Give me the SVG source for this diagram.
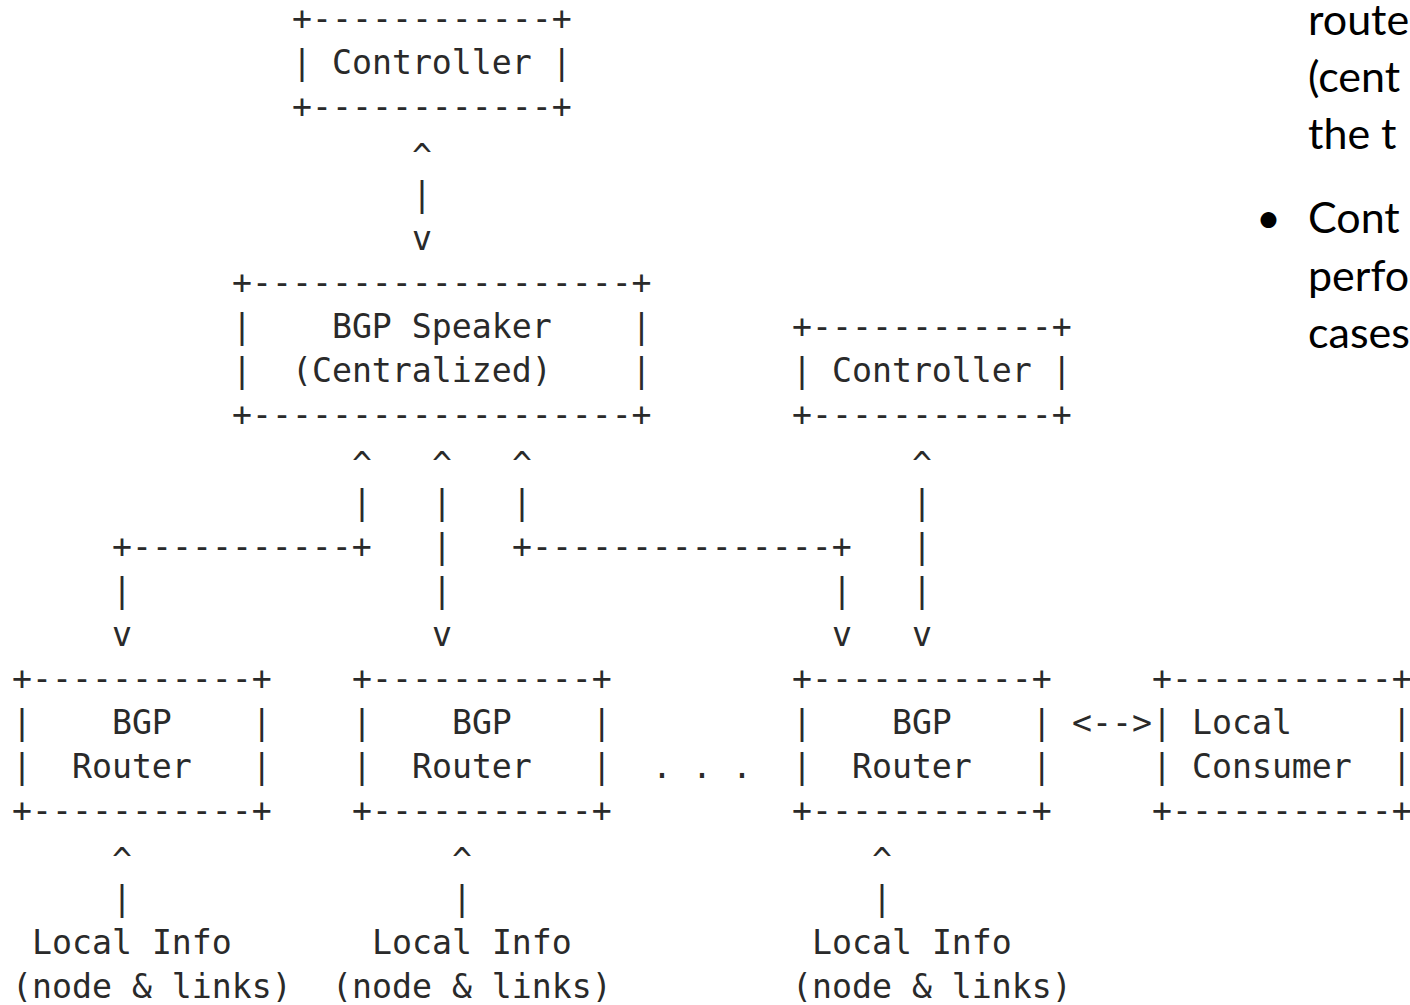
<svg xmlns="http://www.w3.org/2000/svg" width="1410" height="1005" viewBox="0 0 1410 1005" xml:space="preserve">
<style>
.a{font-family:"DejaVu Sans Mono","Liberation Mono",monospace;font-size:33.2px;fill:#2a2a2a;white-space:pre}
.s{font-family:Lato,"Open Sans","Liberation Sans",sans-serif;font-size:43px;fill:#000;white-space:pre}
</style>
<rect width="1410" height="1005" fill="#fff"/>
<g id="controller-top">
<text class="a" x="292" y="30">+------------+</text>
<text class="a" x="292" y="74">| Controller |</text>
<text class="a" x="292" y="118">+------------+</text>
</g>
<g id="bgp-speaker">
<text class="a" x="232" y="294">+-------------------+</text>
<text class="a" x="232" y="338">|    BGP Speaker    |</text>
<text class="a" x="232" y="382">|  (Centralized)    |</text>
<text class="a" x="232" y="426">+-------------------+</text>
</g>
<g id="controller-right">
<text class="a" x="792" y="338">+------------+</text>
<text class="a" x="792" y="382">| Controller |</text>
<text class="a" x="792" y="426">+------------+</text>
</g>
<g id="bgp-router-1">
<text class="a" x="12" y="690">+-----------+</text>
<text class="a" x="12" y="734">|    BGP    |</text>
<text class="a" x="12" y="778">|  Router   |</text>
<text class="a" x="12" y="822">+-----------+</text>
</g>
<g id="bgp-router-2">
<text class="a" x="352" y="690">+-----------+</text>
<text class="a" x="352" y="734">|    BGP    |</text>
<text class="a" x="352" y="778">|  Router   |</text>
<text class="a" x="352" y="822">+-----------+</text>
</g>
<g id="ellipsis">
<text class="a" x="652" y="778">. . .</text>
</g>
<g id="bgp-router-3">
<text class="a" x="792" y="690">+-----------+</text>
<text class="a" x="792" y="734">|    BGP    |</text>
<text class="a" x="792" y="778">|  Router   |</text>
<text class="a" x="792" y="822">+-----------+</text>
</g>
<g id="local-consumer">
<text class="a" x="1152" y="690">+-----------+</text>
<text class="a" x="1152" y="734">| Local     |</text>
<text class="a" x="1152" y="778">| Consumer  |</text>
<text class="a" x="1152" y="822">+-----------+</text>
</g>
<g id="local-info-1">
<text class="a" x="32" y="954">Local Info</text>
<text class="a" x="12" y="998">(node &amp; links)</text>
</g>
<g id="local-info-2">
<text class="a" x="372" y="954">Local Info</text>
<text class="a" x="332" y="998">(node &amp; links)</text>
</g>
<g id="local-info-3">
<text class="a" x="812" y="954">Local Info</text>
<text class="a" x="792" y="998">(node &amp; links)</text>
</g>
<g id="connectors">
<g id="e-controller-speaker">
<text class="a" x="412" y="168">^</text>
<text class="a" x="412" y="206">|</text>
<text class="a" x="412" y="250">v</text>
</g>
<g id="e-speaker-router1">
<text class="a" x="352" y="476">^</text>
<text class="a" x="352" y="514">|</text>
<text class="a" x="112" y="558">+-----------+</text>
<text class="a" x="112" y="602">|</text>
<text class="a" x="112" y="646">v</text>
</g>
<g id="e-speaker-router2">
<text class="a" x="432" y="476">^</text>
<text class="a" x="432" y="514">|</text>
<text class="a" x="432" y="558">|</text>
<text class="a" x="432" y="602">|</text>
<text class="a" x="432" y="646">v</text>
</g>
<g id="e-speaker-router3">
<text class="a" x="512" y="476">^</text>
<text class="a" x="512" y="514">|</text>
<text class="a" x="512" y="558">+---------------+</text>
<text class="a" x="832" y="602">|</text>
<text class="a" x="832" y="646">v</text>
</g>
<g id="e-controller-router3">
<text class="a" x="912" y="476">^</text>
<text class="a" x="912" y="514">|</text>
<text class="a" x="912" y="558">|</text>
<text class="a" x="912" y="602">|</text>
<text class="a" x="912" y="646">v</text>
</g>
<g id="e-router3-consumer">
<text class="a" x="1072" y="734">&lt;--&gt;</text>
</g>
<g id="e-info1-router1">
<text class="a" x="112" y="872">^</text>
<text class="a" x="112" y="910">|</text>
</g>
<g id="e-info2-router2">
<text class="a" x="452" y="872">^</text>
<text class="a" x="452" y="910">|</text>
</g>
<g id="e-info3-router3">
<text class="a" x="872" y="872">^</text>
<text class="a" x="872" y="910">|</text>
</g>
</g>
<g id="side-text">
<text class="s" x="1308" y="35">route</text>
<text class="s" x="1308" y="92">(cent</text>
<text class="s" x="1308" y="149">the t</text>
<text class="s" x="1256" y="233">•</text>
<text class="s" x="1308" y="233">Cont</text>
<text class="s" x="1308" y="291">perfo</text>
<text class="s" x="1308" y="348">cases</text>
</g>
</svg>
